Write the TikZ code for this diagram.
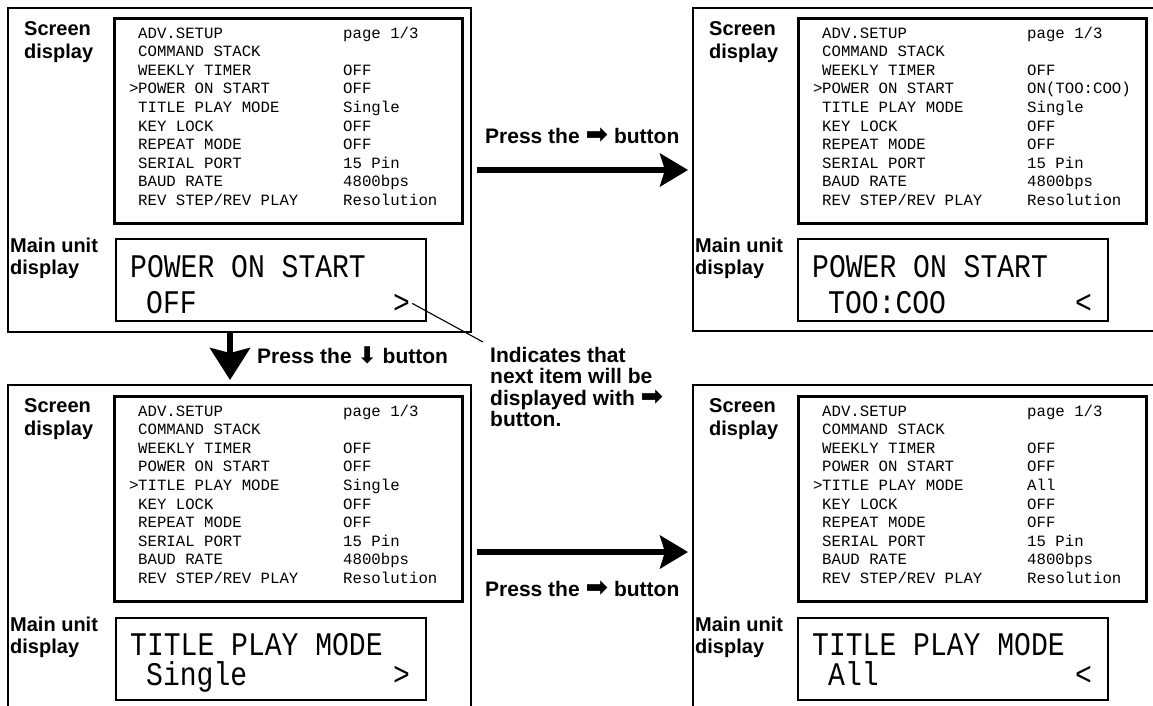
\documentclass[tikz,border=0pt]{standalone}
\usepackage{fontspec}
\setmainfont{Liberation Sans}
\newfontfamily\lcd{Liberation Mono}
\newfontfamily\lcdbig[FakeStretch=0.85]{Liberation Mono}
\newfontfamily\sym{DejaVu Sans}
\usetikzlibrary{arrows.meta,calc}
\newcommand\srow[4]{%
  \node[stxt] (#1l#2) at ($(#1.north west)+(25,{21+18.6*#2})$) {#3};
  \node[stxt] (#1v#2) at ($(#1.north west)+(230,{21+18.6*#2})$) {#4};}
\newcommand\rarr{{\sym\fontsize{27}{27}\selectfont ➡}}
\newcommand\darr{{\sym\fontsize{23}{23}\selectfont ⬇}}
\begin{document}
\begin{tikzpicture}[x=1pt,y=-1pt,
  outerbox/.style={draw,line width=1.5pt,inner sep=0,anchor=north west},
  scrbox/.style={draw,line width=2.6pt,inner sep=0,anchor=north west,minimum width=348pt,minimum height=205pt},
  mainbox/.style={draw,line width=2pt,inner sep=0,anchor=north west,minimum width=310pt,minimum height=82pt},
  lbl/.style={font=\fontsize{20}{22}\selectfont\bfseries,anchor=base west,inner sep=0},
  ptxt/.style={font=\fontsize{21}{24}\selectfont\bfseries,anchor=base west,inner sep=0},
  stxt/.style={font=\lcd\fontsize{15.7}{18}\selectfont,anchor=base west,inner sep=0},
  btxt/.style={font=\lcdbig\fontsize{33}{36}\selectfont,anchor=base west,inner sep=0},
  bigarrow/.style={line width=5.5pt,-{Stealth[length=28pt,width=33pt,inset=5pt]}},
  downarrow/.style={line width=6pt,-{Stealth[length=32pt,width=40pt,inset=5pt]}},
]
\useasboundingbox (0,0) rectangle (1153,705);
\clip (0,0) rectangle (1153,705);
% outer panels
\node[outerbox,minimum width=463pt,minimum height=324pt] (p1) at (7,7) {};
\node[outerbox,minimum width=475pt,minimum height=323pt] (p2) at (692,7) {};
\node[outerbox,minimum width=463pt,minimum height=340pt] (p3) at (7,384) {};
\node[outerbox,minimum width=475pt,minimum height=340pt] (p4) at (692,384) {};
% screen boxes
\node[scrbox] (s1) at (113,17) {};
\node[scrbox] (s2) at (797,17) {};
\node[scrbox] (s3) at (113,395) {};
\node[scrbox] (s4) at (797,395) {};
% main unit boxes
\node[mainbox] (m1) at (115,238) {};
\node[mainbox] (m2) at (797,238) {};
\node[mainbox] (m3) at (115,617) {};
\node[mainbox] (m4) at (797,617) {};
% labels
\foreach \p/\m in {p1/m1,p2/m2,p3/m3,p4/m4}{
  \node[lbl] (\p sa) at ($(\p.north west)+(17,28)$) {Screen};
  \node[lbl] (\p sb) at ($(\p.north west)+(17,51)$) {display};
  \node[lbl] (\p ua) at ($(\m.north west -| \p.west)+(3,14)$) {Main unit};
  \node[lbl] (\p ub) at ($(\m.north west -| \p.west)+(3,36)$) {display};
}
% screen contents
\srow{s1}{0}{ADV.SETUP}{page 1/3}
\srow{s1}{1}{COMMAND STACK}{}
\srow{s1}{2}{WEEKLY TIMER}{OFF}
\srow{s1}{3}{POWER ON START}{OFF}
\srow{s1}{4}{TITLE PLAY MODE}{Single}
\srow{s1}{5}{KEY LOCK}{OFF}
\srow{s1}{6}{REPEAT MODE}{OFF}
\srow{s1}{7}{SERIAL PORT}{15 Pin}
\srow{s1}{8}{BAUD RATE}{4800bps}
\srow{s1}{9}{REV STEP/REV PLAY}{Resolution}
\node[stxt] (s1mk) at ($(s1.north west)+(16,{21+18.6*3})$) {>};
\srow{s2}{0}{ADV.SETUP}{page 1/3}
\srow{s2}{1}{COMMAND STACK}{}
\srow{s2}{2}{WEEKLY TIMER}{OFF}
\srow{s2}{3}{POWER ON START}{ON(TOO:COO)}
\srow{s2}{4}{TITLE PLAY MODE}{Single}
\srow{s2}{5}{KEY LOCK}{OFF}
\srow{s2}{6}{REPEAT MODE}{OFF}
\srow{s2}{7}{SERIAL PORT}{15 Pin}
\srow{s2}{8}{BAUD RATE}{4800bps}
\srow{s2}{9}{REV STEP/REV PLAY}{Resolution}
\node[stxt] (s2mk) at ($(s2.north west)+(16,{21+18.6*3})$) {>};
\srow{s3}{0}{ADV.SETUP}{page 1/3}
\srow{s3}{1}{COMMAND STACK}{}
\srow{s3}{2}{WEEKLY TIMER}{OFF}
\srow{s3}{3}{POWER ON START}{OFF}
\srow{s3}{4}{TITLE PLAY MODE}{Single}
\srow{s3}{5}{KEY LOCK}{OFF}
\srow{s3}{6}{REPEAT MODE}{OFF}
\srow{s3}{7}{SERIAL PORT}{15 Pin}
\srow{s3}{8}{BAUD RATE}{4800bps}
\srow{s3}{9}{REV STEP/REV PLAY}{Resolution}
\node[stxt] (s3mk) at ($(s3.north west)+(16,{21+18.6*4})$) {>};
\srow{s4}{0}{ADV.SETUP}{page 1/3}
\srow{s4}{1}{COMMAND STACK}{}
\srow{s4}{2}{WEEKLY TIMER}{OFF}
\srow{s4}{3}{POWER ON START}{OFF}
\srow{s4}{4}{TITLE PLAY MODE}{All}
\srow{s4}{5}{KEY LOCK}{OFF}
\srow{s4}{6}{REPEAT MODE}{OFF}
\srow{s4}{7}{SERIAL PORT}{15 Pin}
\srow{s4}{8}{BAUD RATE}{4800bps}
\srow{s4}{9}{REV STEP/REV PLAY}{Resolution}
\node[stxt] (s4mk) at ($(s4.north west)+(16,{21+18.6*4})$) {>};
% main unit contents
\node[btxt] (m1a) at ($(m1.north west)+(15,39)$) {POWER ON START};
\node[btxt] (m1b) at ($(m1.north west)+(31,75)$) {OFF};
\node[btxt] (m1c) at ($(m1.north west)+(278,75)$) {>};
\node[btxt] (m2a) at ($(m2.north west)+(15,39)$) {POWER ON START};
\node[btxt] (m2b) at ($(m2.north west)+(31,75)$) {TOO:COO};
\node[btxt] (m2c) at ($(m2.north west)+(278,75)$) {<};
\node[btxt] (m3a) at ($(m3.north west)+(15,38)$) {TITLE PLAY MODE};
\node[btxt] (m3b) at ($(m3.north west)+(31,68)$) {Single};
\node[btxt] (m3c) at ($(m3.north west)+(278,68)$) {>};
\node[btxt] (m4a) at ($(m4.north west)+(15,38)$) {TITLE PLAY MODE};
\node[btxt] (m4b) at ($(m4.north west)+(31,68)$) {All};
\node[btxt] (m4c) at ($(m4.north west)+(278,68)$) {<};
% arrows
\coordinate (ya) at (0,170);
\coordinate (yb) at (0,552);
\coordinate (xd) at (230,0);
\draw[bigarrow] ($(p1.east |- ya)+(5,0)$) -- ($(p2.west |- ya)+(-4,0)$);
\draw[bigarrow] ($(p3.east |- yb)+(5,0)$) -- ($(p4.west |- yb)+(-4,0)$);
\draw[downarrow] (p1.south -| xd) -- ($(p3.north -| xd)+(0,-4)$);
\node[ptxt] (t1) at (485,143) {Press the \rarr{} button};
\node[ptxt] (t2) at (485,596) {Press the \rarr{} button};
\node[ptxt] (t3) at (257,363) {Press the \darr{} button};
% callout
\coordinate (co) at (483,342);
\draw[line width=1.1pt] ($(m1c.east)+(2,0)$) -- (co);
\node[ptxt] (c1) at (490,362) {Indicates that};
\node[ptxt] (c2) at (490,383.5) {next item will be};
\node[ptxt] (c3) at (490,405) {displayed with \rarr};
\node[ptxt] (c4) at (490,426.5) {button.};
\end{tikzpicture}
\end{document}
